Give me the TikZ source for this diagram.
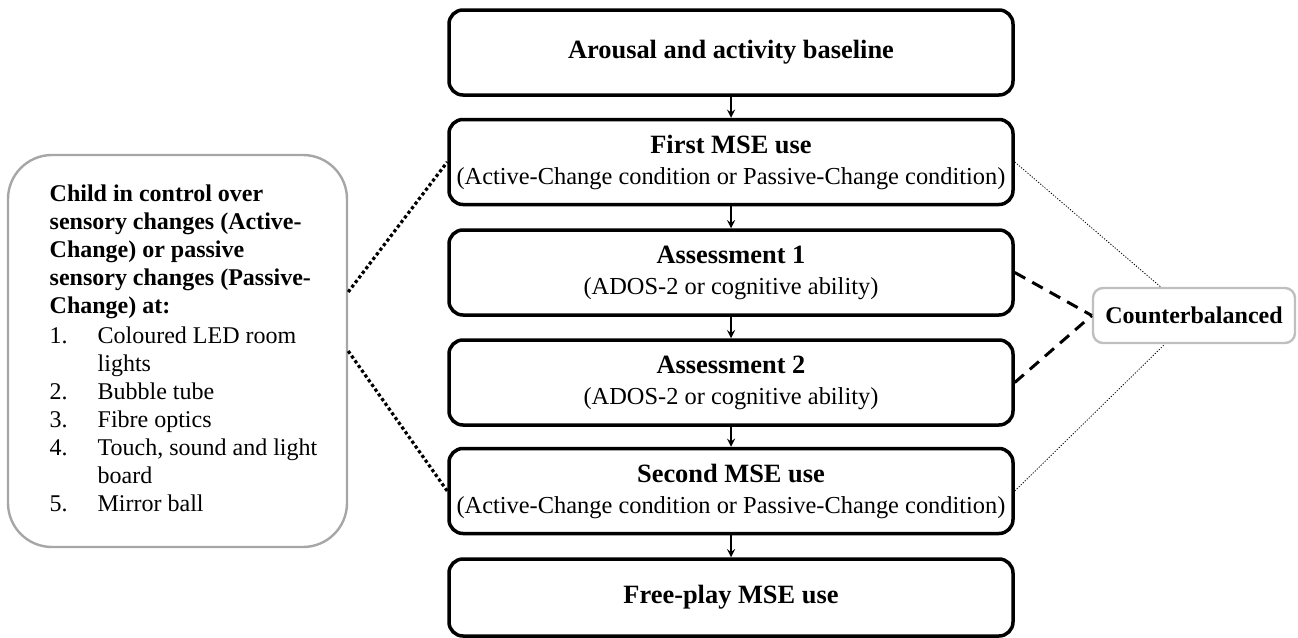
\documentclass[tikz,border=0pt]{standalone}
\usepackage{fontspec}
\setmainfont{Liberation Serif}
\usepackage{tikz}

\begin{document}
\begin{tikzpicture}[x=0.5pt,y=-0.5pt,>=stealth,
  stage/.style={draw,line width=1.75pt,rounded corners=7pt,minimum width=282pt,minimum height=42.5pt,inner sep=1pt,align=center,font=\fontsize{12.2}{15.5}\selectfont},
  note/.style={draw=black!35,line width=1.2pt},
  link/.style={line width=1.6pt,dash pattern=on 1.6pt off 1.3pt},
  pair/.style={line width=1.5pt,dash pattern=on 6pt off 4pt},
  hint/.style={line width=0.4pt,dash pattern=on 0.6pt off 0.8pt}]
\useasboundingbox (0,0) rectangle (1298,638);
\node[stage] (base) at (731,52.5) {{\fontsize{13.2}{16}\selectfont\bfseries Arousal and activity baseline}};
\node[stage] (first) at (731,162) {{\fontsize{13.2}{16}\selectfont\bfseries First MSE use}\\(Active-Change condition or Passive-Change condition)};
\node[stage] (assessA) at (731,272.5) {{\fontsize{13.2}{16}\selectfont\bfseries Assessment 1}\\(ADOS-2 or cognitive ability)};
\node[stage] (assessB) at (731,382.5) {{\fontsize{13.2}{16}\selectfont\bfseries Assessment 2}\\(ADOS-2 or cognitive ability)};
\node[stage] (second) at (731,491) {{\fontsize{13.2}{16}\selectfont\bfseries Second MSE use}\\(Active-Change condition or Passive-Change condition)};
\node[stage,minimum height=38.5pt] (free) at (731,597.5) {{\fontsize{13.2}{16}\selectfont\bfseries Free-play MSE use}};
\foreach \a/\b in {base/first,first/assessA,assessA/assessB,assessB/second,second/free}{\draw[->,line width=0.8pt] (\a) -- (\b);}
\node[note,rounded corners=22pt,minimum width=169.5pt,minimum height=196pt,font=\fontsize{12}{14}\selectfont] (child) at (177.5,351) {\hspace*{6pt}\begin{tabular}{@{}l@{}}
\textbf{Child in control over}\\\textbf{sensory changes (Active-}\\\textbf{Change) or passive}\\\textbf{sensory changes (Passive-}\\\textbf{Change) at:}\\[1pt]
\makebox[24pt][l]{1.}Coloured LED room\\\hspace*{24pt}lights\\
\makebox[24pt][l]{2.}Bubble tube\\
\makebox[24pt][l]{3.}Fibre optics\\
\makebox[24pt][l]{4.}Touch, sound and light\\\hspace*{24pt}board\\
\makebox[24pt][l]{5.}Mirror ball
\end{tabular}};
\node[draw=black!25,line width=1.2pt,rounded corners=5pt,minimum width=101pt,minimum height=27.5pt,font=\fontsize{12}{14}\selectfont\bfseries] (counter) at (1194,315.5) {Counterbalanced};
\draw[link] ([yshift=29.5pt]child.east) -- (first.west);
\draw[link] (child.east) -- (second.west);
\draw[pair] (assessA.east) -- (counter.west);
\draw[pair] (assessB.east) -- (counter.west);
\draw[hint] (first.east) -- (counter);
\draw[hint] (second.east) -- (counter);
\end{tikzpicture}
\end{document}
